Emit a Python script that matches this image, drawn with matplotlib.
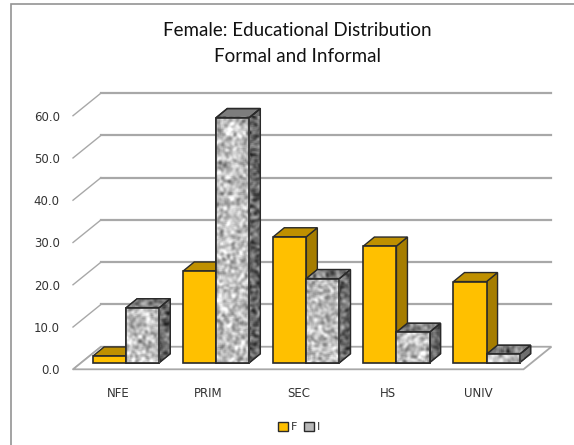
import numpy as np
import matplotlib
matplotlib.use("Agg")
import matplotlib.pyplot as plt
from matplotlib.patches import Polygon, Patch, Rectangle

# values
categories = ["NFE", "PRIM", "SEC", "HS", "UNIV"]
formal = [1.6, 21.7, 29.8, 27.6, 19.2]
informal = [13.0, 58.0, 19.9, 7.2, 2.0]
yTicks = [0, 10, 20, 30, 40, 50, 60]

plt.rcParams['font.family'] = ['DejaVu Sans']

W, H = 574, 445
# plot box in pixels
left, right, top, bottom = 73, 523.5, 115.7, 369.3

# depth of the floor and of the bars, in data units
floorDx, floorDy = 0.31, 5.34
barOffX, barOffY = 0.09, 1.56
barDx, barDy = 0.122, 2.13
barW = 0.367
edgeCol = '#2a2a2a'

fig = plt.figure(figsize=(W/100, H/100), dpi=100)
ax = fig.add_axes([left/W, 1-bottom/H, (right-left)/W, (bottom-top)/H])
ax.set_xlim(-0.5, 4.5)
ax.set_ylim(0, 60)
for s in ax.spines.values():
    s.set_visible(False)
ax.patch.set_visible(False)

# outer frame
fig.add_artist(Rectangle((11/W, -0.1), 0.2+(W-11)/W, 1.1-4/H, transform=fig.transFigure,
                         fill=False, edgecolor='#949494', lw=1.2))

# walls
gridCol = '#a8a8a8'
for v in yTicks:
    ax.plot([-0.5, -0.5+floorDx], [v, v+floorDy], color=gridCol, lw=1, clip_on=False, zorder=1)
    if v > 0:
        ax.plot([-0.5+floorDx, 4.5+floorDx], [v+floorDy, v+floorDy], color=gridCol, lw=1.6,
                clip_on=False, zorder=1)

# floor
ax.add_patch(Polygon([(-0.5, 0), (4.5, 0), (4.5+floorDx, floorDy), (-0.5+floorDx, floorDy)],
                     closed=True, facecolor='white', edgecolor=gridCol, lw=1.3,
                     clip_on=False, zorder=1))

# blotchy stone texture for the I bars, from a shader style hash, smoothed twice
ny, nx = 300, 300
gy, gx = np.mgrid[0:ny, 0:nx]
raw = np.sin(gx*12.9898 + gy*78.233)*43758.5453
grain = raw - np.floor(raw)
for _ in range(2):
    grain = sum(np.roll(np.roll(grain, a, 0), b, 1) for a in (-1, 0, 1) for b in (-1, 0, 1))/9
grain = (grain - grain.mean())/grain.std()


def stone(patch, box, lo, hi, z, start=0):
    # texture keeps one pixel per screen pixel whatever the face size
    x0, x1, y0, y1 = box
    w = max(int((x1-x0)*90), 2)
    h = max(int((y1-y0)*4.23), 2)
    im = ax.imshow(grain[start:start+h, start:start+w], extent=box, aspect='auto', cmap='gray',
                   vmin=lo, vmax=hi, interpolation='bilinear', zorder=z)
    im.set_clip_path(patch)


def drawBar(x0, val, front, side, topc, z, textured=False, start=0):
    x1 = x0 + barW
    y0 = barOffY
    y1 = barOffY + val
    sideP = Polygon([(x1, y0), (x1+barDx, y0+barDy), (x1+barDx, y1+barDy), (x1, y1)],
                    closed=True, facecolor=side, edgecolor=edgeCol, lw=1, clip_on=False, zorder=z)
    topP = Polygon([(x0, y1), (x1, y1), (x1+barDx, y1+barDy), (x0+barDx, y1+barDy)],
                   closed=True, facecolor=topc, edgecolor=edgeCol, lw=1, clip_on=False, zorder=z)
    ax.add_patch(sideP)
    ax.add_patch(topP)
    rect = ax.bar(x0, val, barW, bottom=y0, align='edge', color=front, edgecolor=edgeCol,
                  lw=1.2, clip_on=False, zorder=z+0.1)[0]
    if textured:
        stone(sideP, (x1, x1+barDx, y0, y1+barDy), -4.2, 5.8, z+0.02, start)
        stone(topP, (x0, x1+barDx, y1, y1+barDy), -5.0, 5.0, z+0.02, start+20)
        stone(rect, (x0, x1, y0, y1), -7.5, 2.5, z+0.2, start+40)
        # outlines back on top of the texture
        for p in (sideP, topP):
            ax.add_patch(Polygon(p.get_xy(), closed=True, fill=False, edgecolor=edgeCol, lw=1,
                                 clip_on=False, zorder=z+0.05))
        ax.add_patch(Rectangle((x0, y0), barW, val, fill=False, edgecolor=edgeCol, lw=1.2,
                               clip_on=False, zorder=z+0.3))


for i, cat in enumerate(categories):
    x0 = i - barW + barOffX
    drawBar(x0, formal[i], '#ffc000', '#a67d00', '#bf9000', 3+i)
    drawBar(x0+barW, informal[i], '#c4c4c4', '#6e6e6e', '#7d7d7d', 3+i+0.5, textured=True, start=i*30)

ax.set_xlim(-0.5, 4.5)
ax.set_ylim(0, 60)

ax.set_xticks(range(len(categories)), categories)
ax.set_yticks(yTicks, [f"{v:.1f}" for v in yTicks])
ax.tick_params(axis='both', length=0, labelsize=8.5, labelcolor='#333333')
ax.tick_params(axis='x', pad=12.5)
ax.tick_params(axis='y', pad=9.5)

fig.text(297/W, 1-30/H, "Female: Educational Distribution", ha='center', va='center',
         fontsize=13.5, color='#111111', family='Lato')
fig.text(297/W, 1-57/H, "Formal and Informal", ha='center', va='center',
         fontsize=13.5, color='#111111', family='Lato')

handles = [Patch(facecolor='#ffc000', edgecolor=edgeCol, label='F'),
           Patch(facecolor='#b8b8b8', edgecolor=edgeCol, label='I')]
fig.legend(handles=handles, loc='center', bbox_to_anchor=(299/W, 1-427/H), ncol=2, frameon=False,
           fontsize=8, handlelength=0.9, handleheight=0.9, handletextpad=0.3, columnspacing=0.6,
           labelcolor='#333333')

fig.savefig("out.png", dpi=100)
